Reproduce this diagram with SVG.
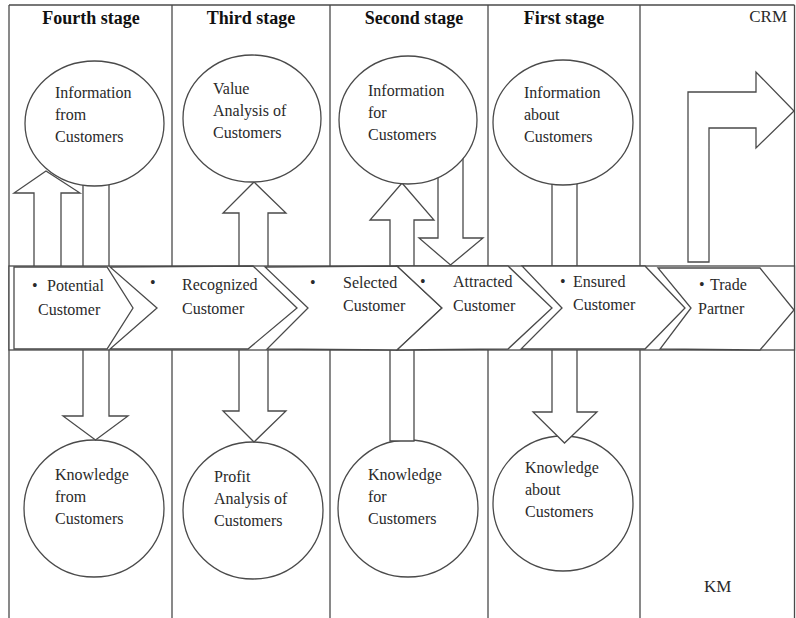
<svg xmlns="http://www.w3.org/2000/svg" width="796" height="618" viewBox="0 0 796 618">
<style>
.ln{stroke:#4a4a4a;stroke-width:1.3;fill:none}
.sh{stroke:#4a4a4a;stroke-width:1.3;fill:#fff;stroke-linejoin:miter}
.t{font-family:"Liberation Serif","Times New Roman",serif;font-size:16px;fill:#2a2a2a}
.h{font-family:"Liberation Serif","Times New Roman",serif;font-size:18px;font-weight:bold;fill:#111}
.c{font-family:"Liberation Serif","Times New Roman",serif;font-size:17px;fill:#2a2a2a}
</style>
<rect width="796" height="618" fill="#fff"/>
<g id="frame" class="ln">
<line x1="9" y1="5" x2="794.5" y2="5"/>
<line x1="9" y1="5" x2="9" y2="618"/>
<line x1="794.5" y1="5" x2="794.5" y2="618"/>
<line x1="172" y1="5" x2="172" y2="618"/>
<line x1="330" y1="5" x2="330" y2="618"/>
<line x1="488" y1="5" x2="488" y2="618"/>
<line x1="640" y1="5" x2="640" y2="618"/>
</g>
<g id="headers">
<text class="h" x="91" y="24" text-anchor="middle">Fourth stage</text>
<text class="h" x="251" y="24" text-anchor="middle">Third stage</text>
<text class="h" x="414" y="24" text-anchor="middle">Second stage</text>
<text class="h" x="564" y="24" text-anchor="middle">First stage</text>
<text class="c" x="787" y="22" text-anchor="end">CRM</text>
<text class="c" x="704" y="592">KM</text>
</g>
<g id="bottom-nodes">
<g id="knowledge-from"><ellipse class="sh" cx="94" cy="508.5" rx="70" ry="68.5"/>
<text class="t" x="55" y="480">Knowledge</text><text class="t" x="55" y="502">from</text><text class="t" x="55" y="524">Customers</text></g>
<g id="profit-analysis"><ellipse class="sh" cx="253" cy="510.5" rx="70" ry="68.5"/>
<text class="t" x="214" y="482">Profit</text><text class="t" x="214" y="504">Analysis of</text><text class="t" x="214" y="526">Customers</text></g>
<g id="knowledge-for"><ellipse class="sh" cx="408" cy="508.5" rx="70" ry="68.5"/>
<text class="t" x="368" y="480">Knowledge</text><text class="t" x="368" y="502">for</text><text class="t" x="368" y="524">Customers</text></g>
<g id="knowledge-about"><ellipse class="sh" cx="563" cy="503.5" rx="70" ry="67.5"/></g>
</g>
<g id="connectors">
<polygon class="sh" points="34,280 34,193 14,193 46,171 80,193 61,193 61,280"/>
<polygon class="sh" points="83,170 109,170 109,416 128,416 95.5,440 63,416 83,416"/>
<polygon class="sh" points="254,182 286,213 268,213 268,411 286,411 254,442 223,411 239,411 239,213 223,213"/>
<polygon class="sh" points="402,183 434,220 414,220 414,441 390,441 390,220 370,220"/>
<polygon class="sh" points="438,150 463,150 463,238 483,238 450.5,265 419,238 438,238"/>
<polygon class="sh" points="552,170 577,170 577,412 597,412 564.5,443 533,412 552,412"/>
<polygon class="sh" points="688,262 688,92 756,92 756,72 794,111 756,148 756,128 709,128 709,262"/>
</g>
<g id="knowledge-about-text">
<text class="t" x="525" y="473">Knowledge</text><text class="t" x="525" y="495">about</text><text class="t" x="525" y="517">Customers</text>
</g>
<g id="top-nodes">
<g id="information-from"><ellipse class="sh" cx="94.5" cy="123.5" rx="69.5" ry="62.5"/>
<text class="t" x="55" y="98">Information</text><text class="t" x="55" y="120">from</text><text class="t" x="55" y="142">Customers</text></g>
<g id="value-analysis"><ellipse class="sh" cx="252" cy="118.5" rx="69" ry="63.5"/>
<text class="t" x="213" y="94">Value</text><text class="t" x="213" y="116">Analysis of</text><text class="t" x="213" y="138">Customers</text></g>
<g id="information-for"><ellipse class="sh" cx="408" cy="120" rx="69" ry="64"/>
<text class="t" x="368" y="96">Information</text><text class="t" x="368" y="118">for</text><text class="t" x="368" y="140">Customers</text></g>
<g id="information-about"><ellipse class="sh" cx="563" cy="122.5" rx="70" ry="62.5"/>
<text class="t" x="524" y="98">Information</text><text class="t" x="524" y="120">about</text><text class="t" x="524" y="142">Customers</text></g>
</g>
<g id="band">
<rect x="9" y="266" width="785.5" height="84" fill="#fff" stroke="#4a4a4a" stroke-width="1.3"/>
<g id="potential"><polygon class="sh" points="14,267 107,267 133,308 107,349 14,349"/>
<text class="t" x="32" y="291">•</text><text class="t" x="47" y="291">Potential</text><text class="t" x="38" y="315">Customer</text></g>
<g id="recognized"><polygon class="sh" points="110,267 253,266 297,308 248,349 110,349 157,308"/>
<text class="t" x="150" y="288">•</text><text class="t" x="182" y="290">Recognized</text><text class="t" x="182" y="314">Customer</text></g>
<g id="selected"><polygon class="sh" points="265,267 397,266 442,308 397,350 267,349 308,308"/>
<text class="t" x="310" y="288">•</text><text class="t" x="343" y="288">Selected</text><text class="t" x="343" y="311">Customer</text></g>
<g id="attracted"><polygon class="sh" points="397,266 508,266 552,308 508,349 397,350 442,308"/>
<text class="t" x="420" y="287">•</text><text class="t" x="453" y="287">Attracted</text><text class="t" x="453" y="311">Customer</text></g>
<g id="ensured"><polygon class="sh" points="522,266 645,266 685,308 645,349 521,349 562,308"/>
<text class="t" x="560" y="287">•</text><text class="t" x="573" y="287">Ensured</text><text class="t" x="573" y="310">Customer</text></g>
<g id="trade"><polygon class="sh" points="658,268 760,268 794,310 760,350 660,349 691,308"/>
<text class="t" x="699" y="290">•</text><text class="t" x="710" y="290">Trade</text><text class="t" x="698" y="314">Partner</text></g>
</g>
</svg>
